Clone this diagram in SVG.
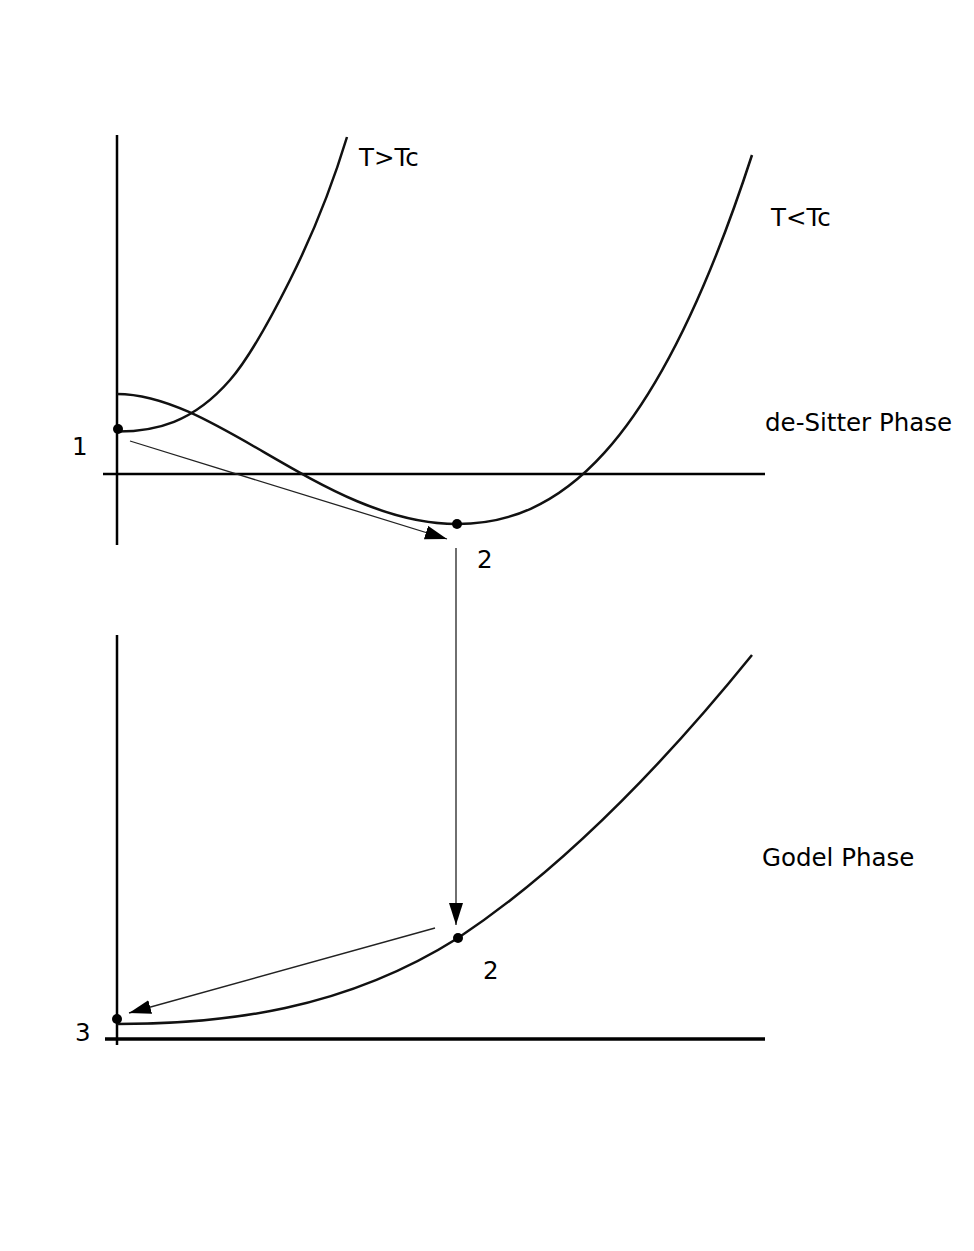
<svg xmlns="http://www.w3.org/2000/svg" width="974" height="1251" viewBox="0 0 974 1251">
<style>
  .axis{stroke:#000;stroke-width:2.5;fill:none}
  .curve{stroke:#111;stroke-width:2.5;fill:none}
  .arrow{stroke:#222;stroke-width:1.3;fill:none;marker-end:url(#ah)}
  .dot{fill:#000}
  text{font-family:"DejaVu Sans","Liberation Sans",sans-serif;font-size:24.5px;fill:#000}
</style>
<defs>
  <marker id="ah" markerUnits="userSpaceOnUse" markerWidth="24" markerHeight="16" refX="22" refY="7" orient="auto">
    <path d="M0,0 L22,7 L0,14 z" fill="#000"/>
  </marker>
</defs>
<rect width="974" height="1251" fill="#fff"/>
<g id="top-panel">
  <line class="axis" x1="117" y1="135" x2="117" y2="545"/>
  <line class="axis" x1="103" y1="474" x2="765" y2="474"/>
  <path id="curve-T-gt-Tc" class="curve" d="M118,431.5 C155.3,431.5 192.7,422.9 230,380 C250,357 270,320 290,280 C309,242 328,199.7 347,137"/>
  <path id="curve-T-lt-Tc" class="curve" d="M117,394 C217,394 327,524 457,524 C555,524 654,456.8 752,155"/>
  <text x="359" y="166">T&gt;Tc</text>
  <text x="771" y="226">T&lt;Tc</text>
  <text x="765" y="431">de-Sitter Phase</text>
</g>
<g id="bottom-panel">
  <line class="axis" x1="117" y1="635" x2="117" y2="1045"/>
  <line class="axis" x1="105" y1="1039" x2="765" y2="1039" style="stroke-width:3.5"/>
  <path id="curve-godel" class="curve" d="M117,1024 C225,1024 344,1010 458,938 C556,873 654,776 752,655"/>
  <text x="762" y="866">Godel Phase</text>
</g>
<g id="node-1">
  <circle class="dot" cx="118" cy="429" r="5"/>
  <text x="72" y="455">1</text>
</g>
<g id="node-2-top">
  <circle class="dot" cx="457" cy="524" r="5"/>
  <text x="477" y="568">2</text>
</g>
<g id="node-2-bottom">
  <circle class="dot" cx="458" cy="938" r="5"/>
  <text x="483" y="979">2</text>
</g>
<g id="node-3">
  <circle class="dot" cx="117" cy="1019" r="5"/>
  <text x="75" y="1041">3</text>
</g>
<g id="connectors">
  <line class="arrow" x1="130" y1="441" x2="447" y2="539"/>
  <line class="arrow" x1="456" y1="548" x2="456" y2="925"/>
  <line class="arrow" x1="435" y1="928" x2="129" y2="1013"/>
</g>
</svg>
